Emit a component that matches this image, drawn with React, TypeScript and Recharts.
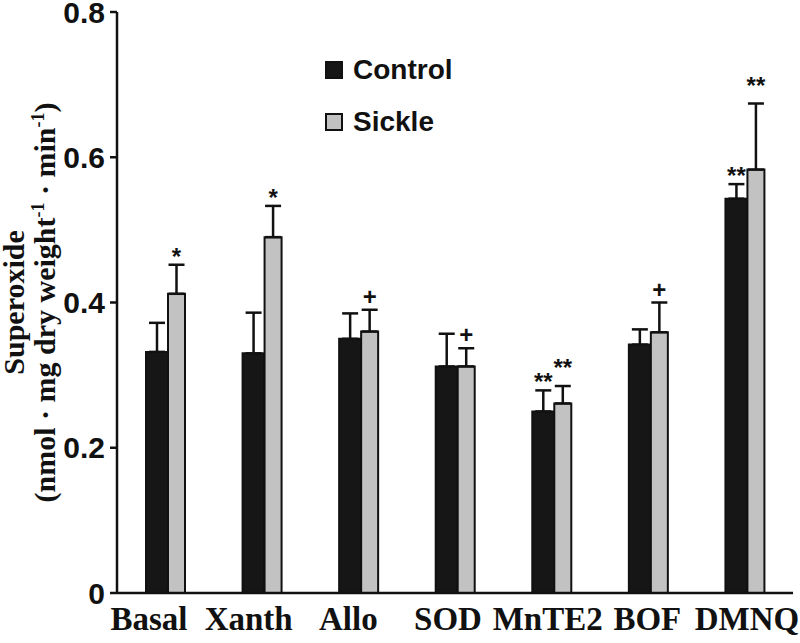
import React from "react";
import { BarChart, Bar, XAxis, YAxis, ErrorBar, LabelList, Legend } from "recharts";

const categories = ["Basal", "Xanth", "Allo", "SOD", "MnTE2", "BOF", "DMNQ"];
const controlMeans = [0.332, 0.33, 0.35, 0.312, 0.25, 0.342, 0.543];
const controlErrors = [0.04, 0.056, 0.035, 0.045, 0.029, 0.021, 0.02];
const sickleMeans = [0.412, 0.49, 0.36, 0.312, 0.261, 0.359, 0.583];
const sickleErrors = [0.04, 0.043, 0.03, 0.025, 0.024, 0.041, 0.091];
const controlMarks = ["", "", "", "", "**", "", "**"];
const sickleMarks = ["*", "*", "+", "+", "**", "+", "**"];
const yTicks = [0, 0.2, 0.4, 0.6, 0.8];

const sans = "'Liberation Sans', Arial, sans-serif";
const serif = "'Liberation Serif', 'Times New Roman', serif";
const ink = "#111";

// upper error only: [below, above]
const data = categories.map((name, i) => ({
  name,
  control: controlMeans[i],
  controlErr: [0, controlErrors[i]],
  controlMark: controlMarks[i],
  sickle: sickleMeans[i],
  sickleErr: [0, sickleErrors[i]],
  sickleMark: sickleMarks[i],
}));

// significance marks sit just above the error bar cap;
// when both bars of a group are marked the sickle one is lifted so they don't collide
const markRenderer = (means: number[], errors: number[], neighbour?: string[]) => (props: any) => {
  const { index, value } = props;
  if (!value) return null;
  const vb = props.viewBox || props;
  const h = Math.abs(vb.height);
  const top = Math.min(vb.y, vb.y + vb.height);
  const capY = top - (errors[index] * h) / means[index];
  const lift = neighbour && neighbour[index] ? 10 : 0;
  const center = capY - 14 - lift;
  const baseline = String(value).includes("*") ? center + 14 : center + 9;
  return (
    <text
      x={vb.x + vb.width / 2}
      y={baseline}
      textAnchor="middle"
      fontFamily={sans}
      fontWeight="bold"
      fontSize={24}
      fill={ink}
    >
      {value}
    </text>
  );
};

const YTitle = (props: any) => {
  const vb = props.viewBox;
  const cy = vb ? vb.y + vb.height / 2 : 302;
  return (
    <g fontFamily={serif} fontWeight="bold" fontSize={30} fill={ink}>
      <text textAnchor="middle" transform={`translate(24, ${cy}) rotate(-90)`}>
        Superoxide
      </text>
      <text textAnchor="middle" transform={`translate(55, ${cy}) rotate(-90)`}>
        (nmol · mg dry weight
        <tspan dy={-11} fontSize={18}>-1</tspan>
        <tspan dy={11}> · min</tspan>
        <tspan dy={-11} fontSize={18}>-1</tspan>
        <tspan dy={11}>)</tspan>
      </text>
    </g>
  );
};

const LegendBox = ({ payload }: any) => (
  <div style={{ fontFamily: sans, fontWeight: "bold", fontSize: 28, color: ink }}>
    {(payload || []).map((entry: any) => (
      <div
        key={entry.value}
        style={{ display: "flex", alignItems: "center", height: 52, lineHeight: "52px" }}
      >
        <span
          style={{
            display: "inline-block",
            width: 14,
            height: 14,
            background: entry.color,
            border: `2px solid ${ink}`,
            marginRight: 10,
          }}
        />
        {entry.value}
      </div>
    ))}
  </div>
);

export default function App() {
  return (
    <div style={{ position: "absolute", left: 0, top: 0, width: 800, height: 643, background: "#fff" }}>
      <BarChart
        width={800}
        height={643}
        data={data}
        margin={{ top: 12, right: 7, bottom: 0, left: 0 }}
        barGap={0}
      >
        <XAxis xAxisId="bars" dataKey="name" hide height={0} />
        <XAxis
          xAxisId="labels"
          dataKey="name"
          scale="point"
          padding={{ left: 32, right: 46 }}
          height={50}
          interval={0}
          tickLine={false}
          tickMargin={8}
          axisLine={{ stroke: ink, strokeWidth: 2.5 }}
          tick={{ fontFamily: serif, fontWeight: "bold", fontSize: 33, fill: ink }}
        />
        <YAxis
          width={117}
          domain={[0, 0.8]}
          ticks={yTicks}
          interval={0}
          tickSize={7}
          tickMargin={5}
          tickFormatter={(v: number) => (v === 0 ? "0" : String(v))}
          axisLine={{ stroke: ink, strokeWidth: 2.5 }}
          tickLine={{ stroke: ink, strokeWidth: 2.5 }}
          tick={{ fontFamily: sans, fontWeight: "bold", fontSize: 30, fill: ink }}
          label={<YTitle />}
        />
        <Legend
          layout="vertical"
          align="center"
          verticalAlign="middle"
          content={<LegendBox />}
          wrapperStyle={{ left: 325, top: 44, width: 200, height: "auto" }}
        />
        <Bar
          xAxisId="bars"
          dataKey="control"
          name="Control"
          fill="#161616"
          stroke={ink}
          strokeWidth={2}
          barSize={22}
          isAnimationActive={false}
        >
          <ErrorBar dataKey="controlErr" direction="y" width={8} stroke={ink} strokeWidth={2.5} />
          <LabelList dataKey="controlMark" content={markRenderer(controlMeans, controlErrors)} />
        </Bar>
        <Bar
          xAxisId="bars"
          dataKey="sickle"
          name="Sickle"
          fill="#c2c2c2"
          stroke={ink}
          strokeWidth={2}
          barSize={17}
          isAnimationActive={false}
        >
          <ErrorBar dataKey="sickleErr" direction="y" width={8} stroke={ink} strokeWidth={2.5} />
          <LabelList
            dataKey="sickleMark"
            content={markRenderer(sickleMeans, sickleErrors, controlMarks)}
          />
        </Bar>
      </BarChart>
    </div>
  );
}
